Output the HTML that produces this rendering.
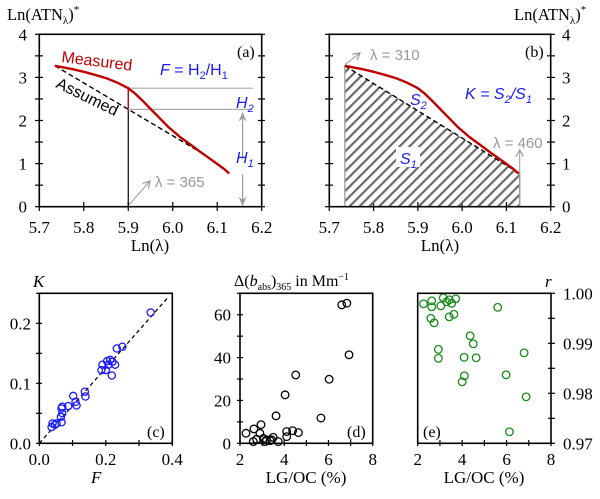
<!DOCTYPE html>
<html><head><meta charset="utf-8"><style>
body{margin:0;background:#fff}
svg{display:block}
.serif{font-family:"Liberation Serif",serif}
.sans{font-family:"Liberation Sans",sans-serif}
</style></head><body>
<svg id="c" width="600" height="499" viewBox="0 0 600 499" xmlns="http://www.w3.org/2000/svg">
<defs>
<pattern id="hatch" width="7" height="7" patternUnits="userSpaceOnUse" patternTransform="rotate(45)">
<rect x="0" y="0" width="2.2" height="7" fill="#6a6a6a"/>
</pattern>
<marker id="ag" markerWidth="8" markerHeight="8" refX="7" refY="4" orient="auto" markerUnits="userSpaceOnUse"><path d="M0,0 L7,4 L0,8" fill="none" stroke="#999" stroke-width="1.2"/></marker>
<marker id="agf" markerWidth="10" markerHeight="10" refX="9" refY="5" orient="auto" markerUnits="userSpaceOnUse"><path d="M0,1 L9,5 L0,9 L3,5 Z" fill="#999"/></marker>
</defs>
</svg>
<script>
// ----- data -----
const specX = [5.735, 5.75, 5.775, 5.8, 5.825, 5.851, 5.875, 5.9, 5.917, 5.934, 5.95, 5.971, 5.99, 6.016, 6.04, 6.061, 6.08, 6.099, 6.115, 6.127];
const specY = [3.27, 3.24, 3.19, 3.13, 3.06, 2.98, 2.88, 2.75, 2.61, 2.44, 2.27, 2.05, 1.85, 1.62, 1.44, 1.28, 1.14, 1.0, 0.88, 0.77];
const assumedX = [5.735, 6.076];
const assumedY = [3.27, 1.18];
const hatchX = [5.735, 6.13];
const hatchY = [3.27, 0.77];
const lnTicks = [5.7, 5.8, 5.9, 6.0, 6.1, 6.2];
const lnTickLabels = ["5.7", "5.8", "5.9", "6.0", "6.1", "6.2"];
const atnTicks = [0, 1, 2, 3, 4];
const cF = [0.335,0.233,0.25,0.19,0.187,0.2,0.204,0.213,0.22,0.228,0.218,0.208,0.137,0.139,0.102,0.109,0.112,0.087,0.067,0.069,0.065,0.067,0.052,0.04,0.037,0.047,0.069];
const cK = [0.218,0.158,0.161,0.131,0.122,0.122,0.137,0.139,0.136,0.131,0.113,0.131,0.086,0.078,0.079,0.069,0.063,0.062,0.058,0.05,0.044,0.035,0.033,0.033,0.027,0.031,0.061];
const cXTicks = ["0.0","0.2","0.4"];
const cYTicks = ["0.0","0.1","0.2"];
const dX = [6.6,6.83,6.93,6.03,4.52,4.04,3.63,5.66,4.64,4.38,4.11,4.11,2.95,2.63,2.27,2.9,3.06,3.2,3.5,3.43,3.73,2.6,2.75,3.13,3.36];
const dY = [64.6,65.4,41.3,29.9,31.9,22.6,12.8,11.8,5,5.9,5.5,3.1,8.7,6.7,4.7,4.7,2.3,1.6,2.8,1.6,0.8,0.8,1.9,0.8,1.2];
const dYTicks = ["0","20","40","60"];
const lgTicks = ["2","4","6","8"];
const eX = [2.26,2.63,2.63,3.15,3.04,3.3,3.42,3.53,3.71,2.59,2.74,3.42,3.63,5.6,4.36,4.5,2.93,2.93,4.09,4.63,4.1,4.0,5.98,6.79,6.88,6.13];
const eR = [0.9979,0.9985,0.9973,0.9991,0.9975,0.9983,0.9987,0.998,0.9989,0.995,0.9941,0.9953,0.9958,0.9972,0.9915,0.9899,0.9888,0.987,0.9872,0.9871,0.9835,0.9823,0.9837,0.9881,0.9793,0.9723];
const eYTicks = ["0.97","0.98","0.99","1.00"];

// ----- helpers -----
const svg = document.getElementById('c');
const NS = 'http://www.w3.org/2000/svg';
const FS = 17;
function mk(tag, attrs, parent){ const e=document.createElementNS(NS,tag); for(const k in attrs) e.setAttribute(k,attrs[k]); (parent||svg).appendChild(e); return e; }
function lin(d0,d1,r0,r1){ return v=>r0+(v-d0)*(r1-r0)/(d1-d0); }
function txt(s,x,y,attrs,parent){ const t=mk('text',Object.assign({x:x,y:y},attrs),parent); t.textContent=s; return t; }
function box(x0,y0,x1,y1,g){ mk('rect',{x:x0,y:y0,width:x1-x0,height:y1-y0,fill:'none',stroke:'#000','stroke-width':1.6},g); }
const atnHTML='Ln(ATN<tspan font-size="11" dy="4">λ</tspan><tspan dy="-4">)</tspan><tspan font-size="11" dy="-7">*</tspan>';

// ===== Panel a =====
const ga = mk('g',{});


const ax = lin(5.7,6.2,39.3,261.7), ay = lin(0,4,206.7,34.3);
for(let v=0; v<=4.001; v+=0.5){ const y=ay(v); mk('line',{x1:35,y1:y,x2:43,y2:y,stroke:'#000','stroke-width':1.2},ga); mk('line',{x1:258,y1:y,x2:265,y2:y,stroke:'#000','stroke-width':1.2},ga); }
lnTicks.forEach((v,i)=>{ const x=ax(v); mk('line',{x1:x,y1:202,x2:x,y2:211,stroke:'#000','stroke-width':1.2},ga); const t=txt(lnTickLabels[i],x,233,{'text-anchor':'middle','font-size':FS,class:'serif'},ga);   });
atnTicks.forEach(v=>{ const t=txt(String(v),27,ay(v)+6,{'text-anchor':'end','font-size':FS,class:'serif'},ga);   });
const aLine = mk('polyline',{points:assumedX.map((x,i)=>ax(x)+','+ay(assumedY[i])).join(' '),fill:'none',stroke:'#000','stroke-width':1.4,'stroke-dasharray':'5,3'},ga);
 
const slope=(assumedY[1]-assumedY[0])/(assumedX[1]-assumedX[0]);
const yAssumed59 = assumedY[0]+slope*(5.9-assumedX[0]);
function interp(xs,ys,x){ for(let i=0;i<xs.length-1;i++){ if(x>=xs[i]&&x<=xs[i+1]) return ys[i]+(ys[i+1]-ys[i])*(x-xs[i])/(xs[i+1]-xs[i]); } return ys[ys.length-1]; }
const yMeas59 = interp(specX,specY,5.9);
mk('line',{x1:ax(5.9),y1:ay(0),x2:ax(5.9),y2:ay(yAssumed59),stroke:'#000','stroke-width':1.2},ga);
mk('line',{x1:ax(5.9),y1:ay(yAssumed59),x2:ax(5.9),y2:ay(yMeas59),stroke:'#c00000','stroke-width':1.4},ga);
mk('line',{x1:ax(5.9),y1:ay(yMeas59),x2:ax(6.18),y2:ay(yMeas59),stroke:'#aaa','stroke-width':1.2},ga);
mk('line',{x1:ax(5.9),y1:ay(yAssumed59),x2:ax(6.18),y2:ay(yAssumed59),stroke:'#aaa','stroke-width':1.2},ga);
const mLine = mk('polyline',{points:specX.map((x,i)=>ax(x)+','+ay(specY[i])).join(' '),fill:'none',stroke:'#c00000','stroke-width':2.4,'stroke-linejoin':'round'},ga);
 
const arx = ax(6.157);
mk('line',{x1:arx,y1:ay(1.1),x2:arx,y2:ay(yAssumed59)+3,stroke:'#999','stroke-width':1.2,'marker-end':'url(#agf)'},ga);
mk('line',{x1:arx,y1:ay(0.75),x2:arx,y2:ay(0.02),stroke:'#999','stroke-width':1.2,'marker-end':'url(#agf)'},ga);
mk('line',{x1:ax(5.9)+1,y1:ay(0.05),x2:150,y2:181,stroke:'#999','stroke-width':1,'marker-end':'url(#ag)'},ga);
txt('λ = 365',155,187,{'font-size':15,fill:'#999',class:'sans'},ga);
box(39.3,34.3,261.7,206.7,ga);
txt('Measured',61,62,{'font-size':16,fill:'#c00000',class:'sans',transform:'rotate(7 61 62)'},ga);
txt('Assumed',55,87,{'font-size':16,fill:'#000',class:'sans',transform:'rotate(26 55 87)'},ga);
const fa=txt('',160,75,{'font-size':16,fill:'#1a1aff',class:'sans'},ga);
fa.innerHTML='<tspan font-style="italic">F</tspan> = H<tspan font-size="11" dy="4">2</tspan><tspan dy="-4">/H</tspan><tspan font-size="11" dy="4">1</tspan>';
const h2=txt('',236,108,{'font-size':16,fill:'#1a1aff',class:'sans','font-style':'italic'},ga); h2.innerHTML='H<tspan font-size="11" dy="4">2</tspan>';
const h1=txt('',236,163,{'font-size':16,fill:'#1a1aff',class:'sans','font-style':'italic'},ga); h1.innerHTML='H<tspan font-size="11" dy="4">1</tspan>';
txt('(a)',237,57,{'font-size':16,class:'serif'},ga);
const ta=txt('',7,20,{'font-size':16.5,class:'serif'},ga); ta.innerHTML=atnHTML;
 
txt('Ln(λ)',150,251,{'text-anchor':'middle','font-size':FS,class:'serif'},ga);

// ===== Panel b =====
const gb = mk('g',{});


const bx = lin(5.7,6.2,329.3,550.7), by = lin(0,4,206.7,34.3);
for(let v=0; v<=4.001; v+=0.5){ const y=by(v); mk('line',{x1:325,y1:y,x2:333,y2:y,stroke:'#000','stroke-width':1.2},gb); mk('line',{x1:547,y1:y,x2:555,y2:y,stroke:'#000','stroke-width':1.2},gb); }
lnTicks.forEach((v,i)=>{ const x=bx(v); mk('line',{x1:x,y1:202,x2:x,y2:211,stroke:'#000','stroke-width':1.2},gb); txt(lnTickLabels[i],x,233,{'text-anchor':'middle','font-size':FS,class:'serif'},gb); });
atnTicks.forEach(v=>{ txt(String(v),562,by(v)+6,{'font-size':FS,class:'serif'},gb); });
const hp = mk('polygon',{points:[bx(hatchX[0])+','+by(0),bx(hatchX[0])+','+by(hatchY[0]),bx(hatchX[1])+','+by(hatchY[1]),bx(hatchX[1])+','+by(0)].join(' '),fill:'url(#hatch)',stroke:'none'},gb);
 
mk('line',{x1:bx(hatchX[0]),y1:by(0),x2:bx(hatchX[0]),y2:by(hatchY[0]),stroke:'#aaa','stroke-width':1.5},gb);
mk('line',{x1:bx(hatchX[1]),y1:by(0),x2:bx(hatchX[1]),y2:by(hatchY[1]),stroke:'#aaa','stroke-width':1.5},gb);
mk('line',{x1:bx(hatchX[0]),y1:by(hatchY[0]),x2:bx(hatchX[1]),y2:by(hatchY[1]),stroke:'#000','stroke-width':1.4,'stroke-dasharray':'5,3'},gb);
const mb = mk('polyline',{points:specX.map((x,i)=>bx(x)+','+by(specY[i])).join(' '),fill:'none',stroke:'#c00000','stroke-width':2.4,'stroke-linejoin':'round'},gb);
 
mk('line',{x1:bx(hatchX[0]),y1:by(hatchY[0])-1,x2:360,y2:53,stroke:'#999','stroke-width':1,'marker-end':'url(#ag)'},gb);
txt('λ = 310',370,60,{'font-size':15,fill:'#999',class:'sans'},gb);
mk('line',{x1:bx(hatchX[1]),y1:by(0.05),x2:bx(hatchX[1]),y2:150,stroke:'#999','stroke-width':1,'marker-end':'url(#ag)'},gb);
txt('λ = 460',493,148,{'font-size':15,fill:'#999',class:'sans'},gb);
box(329.3,34.3,550.7,206.7,gb);
mk('rect',{x:396,y:147,width:24,height:20,fill:'#fff'},gb);
const s1=txt('',400,164,{'font-size':16,fill:'#1a1aff',class:'sans','font-style':'italic'},gb); s1.innerHTML='S<tspan font-size="11" dy="4">1</tspan>';
const s2=txt('',410,105,{'font-size':16,fill:'#1a1aff',class:'sans','font-style':'italic'},gb); s2.innerHTML='S<tspan font-size="11" dy="4">2</tspan>';
const kk=txt('',465,99,{'font-size':16,fill:'#1a1aff',class:'sans','font-style':'italic'},gb); kk.innerHTML='K = S<tspan font-size="11" dy="4">2</tspan><tspan dy="-4">/S</tspan><tspan font-size="11" dy="4">1</tspan>';
txt('(b)',525,57,{'font-size':16,class:'serif'},gb);
const tb=txt('',514,20,{'font-size':16.5,class:'serif'},gb); tb.innerHTML=atnHTML;
txt('Ln(λ)',440,251,{'text-anchor':'middle','font-size':FS,class:'serif'},gb);

// ===== Panel c =====
const gc = mk('g',{});


const cx = lin(0,0.4,39.3,172.3), cy = lin(0,0.25,443.3,293.3);
for(let v=0; v<=0.25; v+=0.05){ mk('line',{x1:36,y1:cy(v),x2:42,y2:cy(v),stroke:'#000','stroke-width':1.2},gc); }
for(let v=0; v<=0.4001; v+=0.1){ mk('line',{x1:cx(v),y1:440,x2:cx(v),y2:446,stroke:'#000','stroke-width':1.2},gc); }
cXTicks.forEach(s=>{ txt(s,cx(parseFloat(s)),465,{'text-anchor':'middle','font-size':FS,class:'serif'},gc); });
cYTicks.forEach(s=>{ txt(s,31,cy(parseFloat(s))+6,{'text-anchor':'end','font-size':FS,class:'serif'},gc); });
mk('line',{x1:cx(0),y1:cy(0),x2:cx(0.39),y2:cy(0.245),stroke:'#000','stroke-width':1.2,'stroke-dasharray':'4,3'},gc);
cF.forEach((f,i)=>{ const p=mk('circle',{cx:cx(f),cy:cy(cK[i]),r:3.6,fill:'none',stroke:'#1a1aff','stroke-width':1.3},gc);
    });
box(39.3,293.3,172.3,443.3,gc);
txt('(c)',147,437,{'font-size':16,class:'serif'},gc);
txt('K',33,287,{'font-size':FS,class:'serif','font-style':'italic'},gc);
txt('F',91,483,{'font-size':FS,class:'serif','font-style':'italic'},gc);

// ===== Panel d =====
const gd = mk('g',{});


const dx = lin(2,8,240,372.7), dy = lin(0,70,443.3,293.3);
for(let v=0; v<=70; v+=10){ mk('line',{x1:237,y1:dy(v),x2:243,y2:dy(v),stroke:'#000','stroke-width':1.2},gd); }
for(let v=2; v<=8; v+=1){ mk('line',{x1:dx(v),y1:440,x2:dx(v),y2:446,stroke:'#000','stroke-width':1.2},gd); }
lgTicks.forEach(s=>{ txt(s,dx(+s),465,{'text-anchor':'middle','font-size':FS,class:'serif'},gd); });
dYTicks.forEach(s=>{ txt(s,231,dy(+s)+6,{'text-anchor':'end','font-size':FS,class:'serif'},gd); });
dX.forEach((x,i)=>{ const p=mk('circle',{cx:dx(x),cy:dy(dY[i]),r:3.8,fill:'none',stroke:'#000','stroke-width':1.3},gd);
    });
box(240,293.3,372.7,443.3,gd);
txt('(d)',347,437,{'font-size':16,class:'serif'},gd);
const td=txt('',234,286,{'font-size':16,class:'serif'},gd); td.innerHTML='Δ(<tspan font-style="italic">b</tspan><tspan font-size="10" dy="4">abs</tspan><tspan dy="-4">)</tspan><tspan font-size="10" dy="4">365</tspan><tspan dy="-4"> in Mm</tspan><tspan font-size="10" dy="-6">−1</tspan>';
txt('LG/OC (%)',306,483,{'text-anchor':'middle','font-size':FS,class:'serif'},gd);

// ===== Panel e =====
const ge = mk('g',{});


const ex = lin(2,8,417.7,551), ey = lin(0.97,1.0,443.3,293.3);
for(let v=0; v<=6; v+=1){ const y=ey(0.97+v*0.005); mk('line',{x1:548,y1:y,x2:555,y2:y,stroke:'#000','stroke-width':1.2},ge); }
for(let v=2; v<=8; v+=1){ mk('line',{x1:ex(v),y1:440,x2:ex(v),y2:446,stroke:'#000','stroke-width':1.2},ge); }
lgTicks.forEach(s=>{ txt(s,ex(+s),465,{'text-anchor':'middle','font-size':FS,class:'serif'},ge); });
eYTicks.forEach(s=>{ txt(s,563,ey(+s)+6,{'font-size':FS,class:'serif'},ge); });
eX.forEach((x,i)=>{ const p=mk('circle',{cx:ex(x),cy:ey(eR[i]),r:3.8,fill:'none',stroke:'#1a8a1a','stroke-width':1.3},ge);
    });
box(417.7,293.3,551,443.3,ge);
txt('(e)',423,437,{'font-size':16,class:'serif'},ge);
txt('r',545,287,{'font-size':FS,class:'serif','font-style':'italic'},ge);
txt('LG/OC (%)',484,483,{'text-anchor':'middle','font-size':FS,class:'serif'},ge);
</script>
</body></html>
